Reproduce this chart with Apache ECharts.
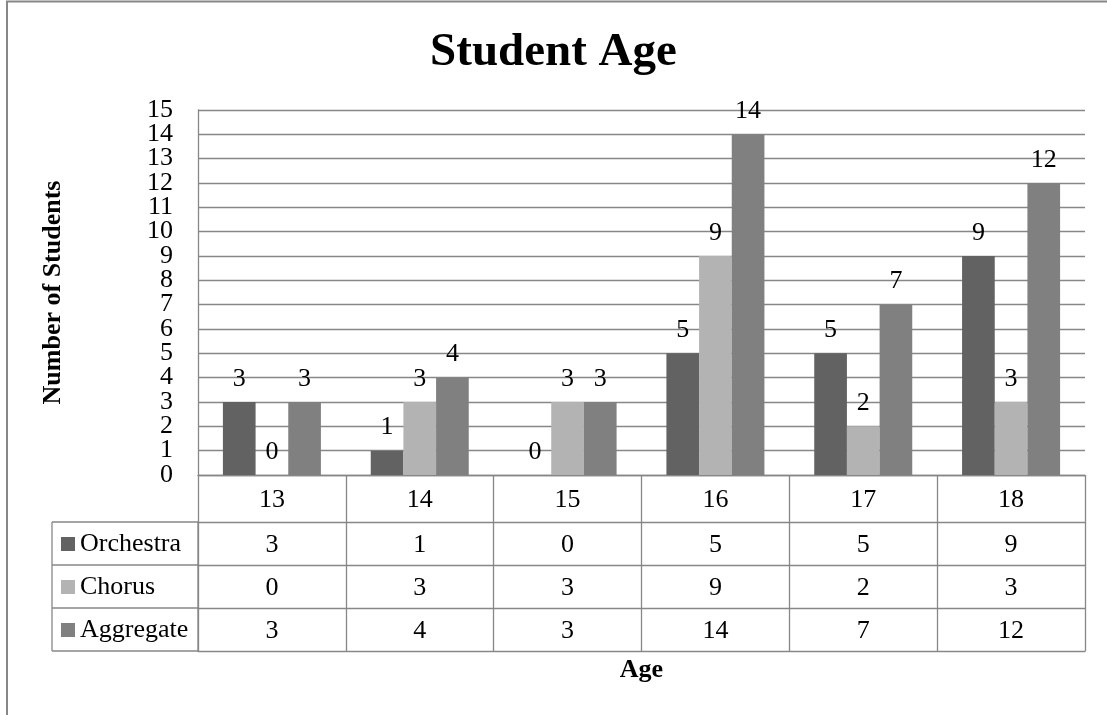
<!DOCTYPE html>
<html>
<head>
<meta charset="utf-8">
<script src="https://cdn.jsdelivr.net/npm/echarts@6/dist/echarts.min.js"></script>
<style>
  html, body { margin: 0; padding: 0; background: #fff; }
  #chart { width: 1107px; height: 715px; }
</style>
</head>
<body>
<div id="chart"></div>
<script>
const categories = ['13', '14', '15', '16', '17', '18'];
const orchestra = [3, 1, 0, 5, 5, 9];
const chorus = [0, 3, 3, 9, 2, 3];
const aggregate = [3, 4, 3, 14, 7, 12];
const seriesNames = ['Orchestra', 'Chorus', 'Aggregate'];
const yTicks = { min: 0, max: 15, interval: 1 };

const FONT = '"Liberation Serif", "Times New Roman", serif';
const GRAY = '#878787';
const colors = ['#626262', '#b3b3b3', '#808080'];
const rows = [orchestra, chorus, aggregate];

const chart = echarts.init(document.getElementById('chart'));

const headerH = 47, rowH = 43;

function rowAxis(idx, values) {
  return {
    type: 'category',
    gridIndex: 0,
    position: 'bottom',
    offset: headerH + rowH * idx,
    data: categories,
    axisLine: { show: true, onZero: false, lineStyle: { color: GRAY, width: 1.3 } },
    axisTick: { show: values !== null, length: rowH, lineStyle: { color: GRAY, width: 1.3 } },
    axisLabel: {
      show: values !== null,
      margin: 10,
      fontFamily: FONT, fontSize: 26, color: '#000',
      formatter: (v, i) => values ? String(values[i]) : ''
    },
    splitLine: { show: false }
  };
}

const xAxes = [{
  type: 'category',
  gridIndex: 0,
  data: categories,
  name: 'Age',
  nameLocation: 'middle',
  nameGap: 182,
  nameTextStyle: { fontFamily: FONT, fontSize: 26, fontWeight: 'bold', color: '#000' },
  axisLine: { show: true, onZero: false, lineStyle: { color: GRAY, width: 1.3 } },
  axisTick: { show: true, length: headerH, lineStyle: { color: GRAY, width: 1.3 } },
  axisLabel: { margin: 12, fontFamily: FONT, fontSize: 26, color: '#000' },
  splitLine: { show: false }
}];
rows.forEach((r, i) => xAxes.push(rowAxis(i, r)));
xAxes.push(rowAxis(3, null));

const lx = 52, gx = 198, top0 = 475 + headerH;
const tableLines = [];
for (let i = 0; i <= 3; i++) {
  tableLines.push({
    type: 'line', silent: true,
    shape: { x1: lx, y1: top0 + rowH * i, x2: gx, y2: top0 + rowH * i },
    style: { stroke: GRAY, lineWidth: 1.3 }
  });
}
tableLines.push({
  type: 'line', silent: true,
  shape: { x1: lx, y1: top0, x2: lx, y2: top0 + rowH * 3 },
  style: { stroke: GRAY, lineWidth: 1.3 }
});
tableLines.push({
  type: 'line', silent: true,
  shape: { x1: gx, y1: top0, x2: gx, y2: top0 + rowH * 3 },
  style: { stroke: GRAY, lineWidth: 1.3 }
});

const yLabelStyle = { margin: 25, fontFamily: FONT, fontSize: 26, color: '#000' };

const option = {
  backgroundColor: '#fff',
  animation: false,
  title: {
    text: 'Student Age',
    left: 'center',
    top: 24,
    textStyle: { fontFamily: FONT, fontSize: 47, fontWeight: 'bold', color: '#000' }
  },
  legend: {
    orient: 'vertical',
    left: 61,
    top: 531,
    padding: 0,
    itemWidth: 14,
    itemHeight: 14,
    itemGap: 17,
    icon: 'rect',
    data: seriesNames,
    textStyle: { fontFamily: FONT, fontSize: 26, color: '#000', padding: [0, 0, 0, 0] }
  },
  grid: { left: 198, right: 22, top: 110, bottom: 240, containLabel: false },
  xAxis: xAxes,
  yAxis: [
    {
      type: 'value',
      min: yTicks.min, max: yTicks.max, interval: yTicks.interval,
      name: 'Number of Students',
      nameLocation: 'middle',
      nameGap: 132,
      nameTextStyle: { fontFamily: FONT, fontSize: 26, fontWeight: 'bold', color: '#000' },
      axisLine: { show: true, onZero: false, lineStyle: { color: GRAY, width: 1.3 } },
      axisTick: { show: false },
      axisLabel: Object.assign({}, yLabelStyle),
      splitLine: { show: true, lineStyle: { color: GRAY, width: 1.3 } }
    },
    {
      type: 'value',
      position: 'left',
      min: yTicks.min, max: yTicks.max, interval: yTicks.interval,
      axisLine: { show: false, onZero: false },
      axisTick: { show: false },
      splitLine: { show: false },
      axisLabel: Object.assign({}, yLabelStyle, {
        showMinLabel: true, showMaxLabel: true,
        formatter: v => (v === yTicks.min || v === yTicks.max) ? String(v) : ''
      })
    }
  ],
  series: seriesNames.map((name, i) => ({
    name,
    type: 'bar',
    xAxisIndex: 0,
    yAxisIndex: 0,
    data: rows[i],
    barWidth: '22.1%',
    barGap: '0%',
    itemStyle: { color: colors[i] },
    label: {
      show: true, position: 'top', distance: 10,
      fontFamily: FONT, fontSize: 26, color: '#000'
    }
  })),
  graphic: [
    {
      type: 'rect', silent: true, z: -10,
      shape: { x: 7, y: 1.5, width: 1130, height: 740 },
      style: { fill: 'none', stroke: GRAY, lineWidth: 2 }
    },
    ...tableLines
  ]
};
chart.setOption(option);
</script>
</body>
</html>
